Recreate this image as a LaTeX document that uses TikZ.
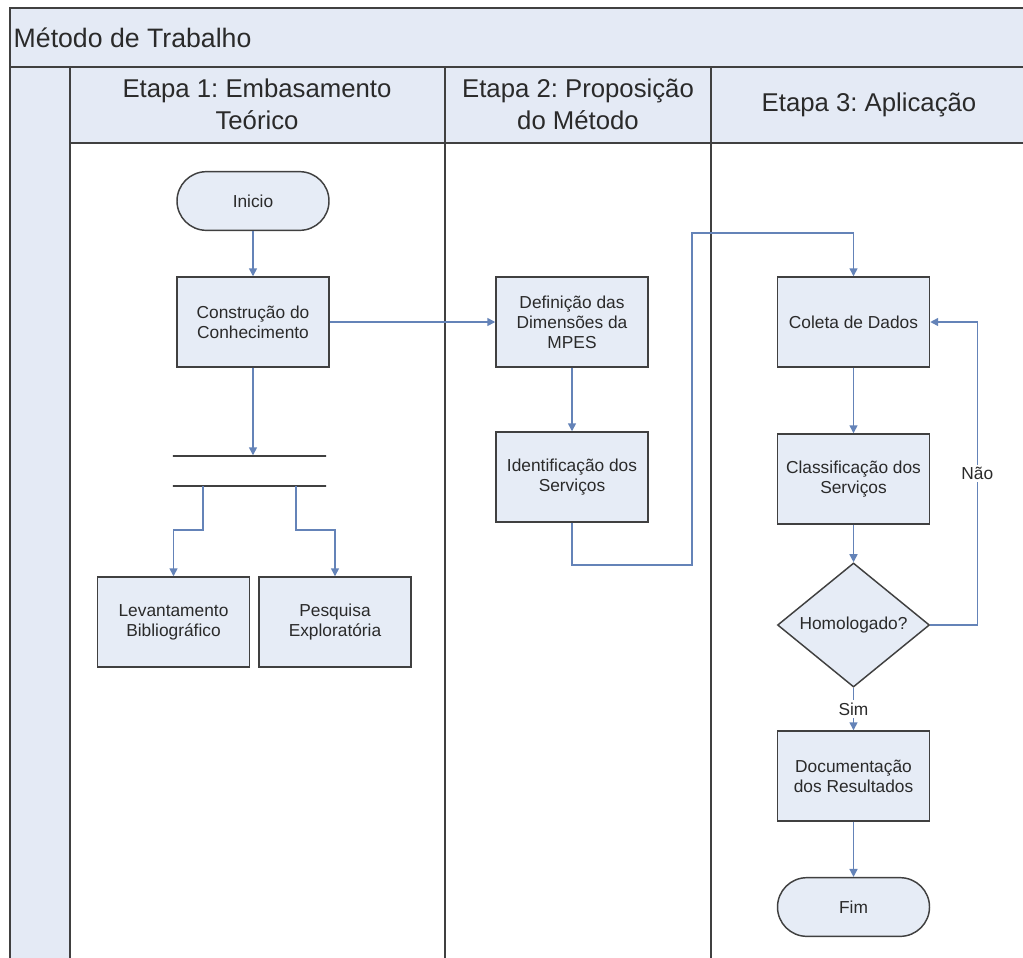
\documentclass[tikz,border=0pt]{standalone}
\usepackage{fontspec}
\setmainfont{Liberation Sans}
\usetikzlibrary{arrows.meta,shapes.geometric,calc}
\frenchspacing
\definecolor{laneFill}{HTML}{E4EAF5}
\definecolor{boxFill}{HTML}{E6ECF6}
\definecolor{laneLine}{HTML}{404040}
\definecolor{flowBlue}{HTML}{6483B8}
\definecolor{txt}{HTML}{2A2A2A}
\tikzset{
  lane/.style={draw=laneLine, line width=1.5pt},
  proc/.style={draw=laneLine, line width=1.1pt, fill=boxFill, rectangle,
    minimum width=114pt, minimum height=67.5pt, align=center, inner sep=2pt,
    font=\fontsize{13}{15}\selectfont, text=txt},
  term/.style={draw=laneLine, line width=1.1pt, fill=boxFill, rectangle,
    rounded corners=22pt, minimum width=114pt, minimum height=44pt,
    font=\fontsize{13}{15}\selectfont, text=txt},
  decision/.style={draw=laneLine, line width=1.1pt, fill=boxFill, diamond,
    minimum width=114pt, minimum height=64.5pt, inner sep=0pt,
    font=\fontsize{13}{15}\selectfont, text=txt},
  forkbar/.style={draw=laneLine, line width=1.1pt, rectangle,
    minimum width=115pt, minimum height=0pt, inner sep=0pt},
  flow/.style={draw=flowBlue, line width=1.1pt, -{Triangle[width=6pt,length=6pt]}},
  edgelabel/.style={fill=white, inner sep=2pt, text=txt,
    font=\fontsize{13}{15}\selectfont},
  headtext/.style={align=center, text=txt, font=\fontsize{19.3}{24}\selectfont}
}
\begin{document}
\begin{tikzpicture}[x=0.75pt,y=-0.75pt]
\useasboundingbox (0,0) rectangle (1023,957);
\clip (0,0) rectangle (1023,957);
\fill[white] (0,0) rectangle (1023,957);

% pool title band, left strip and lane headers
\fill[laneFill] (10,8) rectangle (1040,67);
\fill[laneFill] (10,67) rectangle (70,970);
\fill[laneFill] (70,67) rectangle (1040,143);
\draw[lane] (1040,8) -- (10,8) -- (10,970);
\draw[lane] (10,67) -- (1040,67);
\draw[lane] (70,143) -- (1040,143);
\draw[lane] (70,67) -- (70,970);
\draw[lane] (445,67) -- (445,970);
\draw[lane] (711,67) -- (711,970);
\draw[lane] (1026,67) -- (1026,970);

\node[anchor=west, text=txt, font=\fontsize{20}{24}\selectfont] (title) at (9,38) {Método de Trabalho};
\node[headtext] (h1) at (257,104) {Etapa 1: Embasamento\\Teórico};
\node[headtext] (h2) at (578,104) {Etapa 2: Proposição\\do Método};
\node[headtext] (h3) at (869,105) {Etapa 3: Aplicação};

% Etapa 1
\node[term] (ini) at (253,201) {Inicio};
\node[proc] (cc) at (253,322) {Construção do\\Conhecimento};
\node[forkbar] (f1) at (249.5,456) {};
\node[forkbar] (f2) at (249.5,486) {};
\node[proc] (lev) at (173.5,622) {Levantamento\\Bibliográfico};
\node[proc] (pes) at (335,622) {Pesquisa\\Exploratória};

% Etapa 2
\node[proc] (def) at (572,322) {Definição das\\Dimensões da\\MPES};
\node[proc] (idf) at (572,477) {Identificação dos\\Serviços};

% Etapa 3
\node[proc] (col) at (853.5,322) {Coleta de Dados};
\node[proc] (cla) at (853.5,479) {Classificação dos\\Serviços};
\node[decision] (hom) at (853.5,625) {Homologado?};
\node[proc] (doc) at (853.5,776) {Documentação\\dos Resultados};
\node[term] (fim) at (853.5,907) {Fim};

\coordinate (ja) at (692,565);
\coordinate (jb) at (692,233);

% connectors
\draw[flow] (ini) -- (cc);
\draw[flow] (cc.south) -- (cc.south |- f1.north);
\draw[flow] ($(f2.west)!0.2!(f2.east)$) -- ++(0,44) -| (lev.north);
\draw[flow] ($(f2.west)!0.8!(f2.east)$) -- ++(0,44) -| (pes.north);
\draw[flow] (cc.east) -- (def.west);
\draw[flow] (def) -- (idf);
\draw[flow] (idf.south) |- (ja) -- (jb) -| (col.north);
\draw[flow] (col) -- (cla);
\draw[flow] (cla) -- (hom);
\draw[flow] (hom.east) -- ++(47,0) |- node[edgelabel, pos=0.25] {Não} (col.east);
\draw[flow] (hom.south) -- node[edgelabel] {Sim} (doc.north);
\draw[flow] (doc) -- (fim);
\end{tikzpicture}
\end{document}
